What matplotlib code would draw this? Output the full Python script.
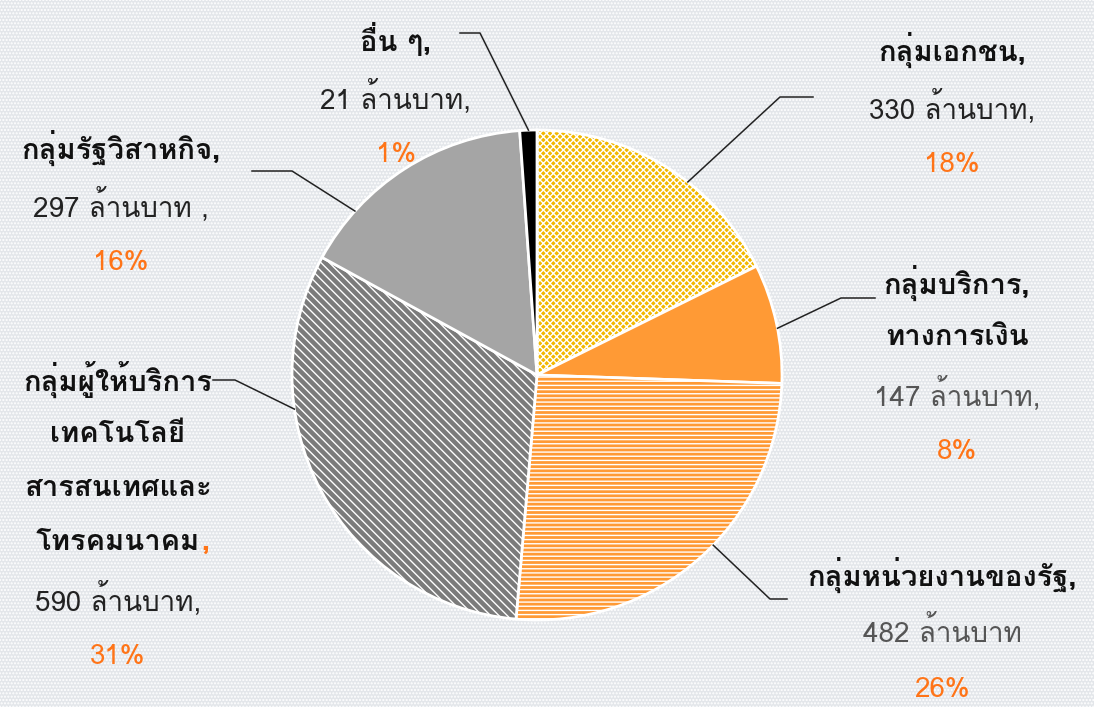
import matplotlib
matplotlib.use('Agg')
import matplotlib.pyplot as plt
from matplotlib import font_manager
from matplotlib.ft2font import FT2Font
from matplotlib.patches import Rectangle
import matplotlib.patheffects as pe
import numpy as np

# data
names = ['กลุ่มเอกชน', 'กลุ่มบริการทางการเงิน', 'กลุ่มหน่วยงานของรัฐ',
         'กลุ่มผู้ให้บริการเทคโนโลยีสารสนเทศและโทรคมนาคม', 'กลุ่มรัฐวิสาหกิจ', 'อื่น ๆ']
values = [330, 147, 482, 590, 297, 21]
percents = ['18%', '8%', '26%', '31%', '16%', '1%']
value_labels = ['330 ล้านบาท,', '147 ล้านบาท,', '482 ล้านบาท', '590 ล้านบาท,',
                '297 ล้านบาท ,', '21 ล้านบาท,']
name_lines = [['กลุ่มเอกชน,'], ['กลุ่มบริการ,', 'ทางการเงิน'], ['กลุ่มหน่วยงานของรัฐ,'],
              ['กลุ่มผู้ให้บริการ', 'เทคโนโลยี', 'สารสนเทศและ', 'โทรคมนาคม'],
              ['กลุ่มรัฐวิสาหกิจ,'], ['อื่น ๆ,']]

colors = ['#f2b800', '#ff9a35', '#ff9a35', '#7b7b7b', '#a5a5a5', '#000000']
hatches = ['xxxxx', None, '----', '\\\\\\\\', None, None]
pct_color = '#ff7417'


def thai_family():
    found = {}
    for f in font_manager.fontManager.ttflist:
        try:
            if 0x0E01 in FT2Font(f.fname).get_charmap():
                found.setdefault(f.name, []).append(f.weight)
        except Exception:
            pass
    if not found:
        return 'DejaVu Sans', False
    def has_bold(n):
        return any((w if isinstance(w, int) else 700 if 'bold' in str(w) else 400) >= 600
                   for w in found[n])
    prefs = ['Noto Sans Thai', 'Noto Sans Thai UI', 'Loma', 'Garuda', 'Sarabun',
             'Tlwg Typo', 'Waree', 'Kinnari', 'Norasi', 'Umpush']
    bold_ones = [n for n in prefs if n in found and has_bold(n)]
    if bold_ones:
        return bold_ones[0], True
    for n in prefs:
        if n in found:
            return n, has_bold(n)
    n = sorted(found)[0]
    return n, has_bold(n)


thai, thai_bold = thai_family()
plt.rcParams['font.family'] = [thai, 'DejaVu Sans']
plt.rcParams['hatch.linewidth'] = 1.0

W, H = 1094, 707
fig = plt.figure(figsize=(W / 100, H / 100), dpi=100)
ax = fig.add_axes([0, 0, 1, 1])

# background with white dots
ax.add_patch(Rectangle((0, 0), W, H, facecolor='#e3e6ea', edgecolor='white',
                       hatch='.....', linewidth=0, zorder=0))

cx, cy, r = 537, 332, 245
wedges, _ = ax.pie(values, colors=colors, startangle=90, counterclock=False,
                   center=(cx, cy), radius=r, frame=False,
                   wedgeprops=dict(edgecolor='white', linewidth=2))
for w, h in zip(wedges, hatches):
    w.set_zorder(2)
    if h:
        w.set_hatch(h)

ax.set_xlim(0, W)
ax.set_ylim(0, H)
ax.set_aspect('equal')
ax.axis('off')

# label layout (pixel coordinates, y from top)
label_x = [952, 957, 942, 118, 121, 396]
label_y = [50, 283, 575, 380, 148, 40]
anchor_deg = [52, 11, -44, -172, 138, 92]
elbows = [(780, 97), (841, 298), (770, 599), (235, 380), (292, 171), (480, 33)]
ends = [(813, 97), (875, 298), (787, 599), (213, 380), (252, 171), (460, 33)]

bold_kw = dict(fontsize=21, fontweight='bold', color='#111111', zorder=4)
if not thai_bold:
    bold_kw['path_effects'] = [pe.withStroke(linewidth=1.3, foreground='#111111')]

for i, v in enumerate(values):
    a = np.deg2rad(anchor_deg[i])
    sx, sy = cx + r * np.cos(a), cy + r * np.sin(a)
    ex, ey = elbows[i]
    tx, ty = ends[i]
    ax.plot([sx, ex, tx], [sy, H - ey, H - ty], color='#222222', lw=1.1, zorder=3)

    y = label_y[i]
    for j, line in enumerate(name_lines[i]):
        if j > 0:
            y += 54
        t = ax.text(label_x[i], H - y, line, ha='center', va='center', **bold_kw)
        if i == 3 and j == len(name_lines[i]) - 1:
            fig.canvas.draw()
            bb = t.get_window_extent()
            ax.text(bb.x1 + 1, H - y, ',', ha='left', va='center', fontsize=21,
                    fontweight='bold', color=pct_color, zorder=4)
    y += 57
    vcol = '#555555' if i in (1, 2) else '#222222'
    ax.text(label_x[i], H - y, value_labels[i], ha='center', va='center',
            fontsize=20, color=vcol, zorder=4)
    y += 58
    ax.text(label_x[i], H - y, percents[i], ha='center', va='center',
            fontsize=20, color=pct_color, zorder=4)

fig.savefig('out.png', dpi=100)
